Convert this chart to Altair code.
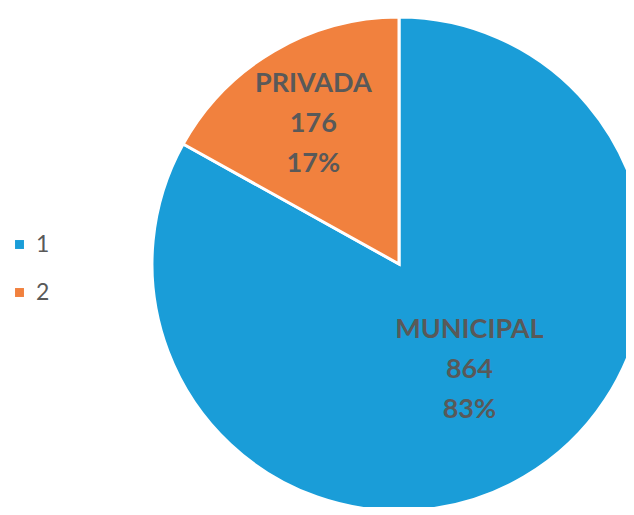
import altair as alt
import pandas as pd

names = ["MUNICIPAL", "PRIVADA"]
values = [864, 176]
legend_keys = ["1", "2"]
order = [1, 2]
colors = ["#1A9DD8", "#F1813E"]

df = pd.DataFrame({"name": names, "value": values, "key": legend_keys, "ord": order})

base = alt.Chart(df).transform_joinaggregate(
    total="sum(value)"
).transform_calculate(
    pct="format(datum.value / datum.total, '.0%')",
    label="[datum.name, '' + datum.value, datum.pct]",
)

cx, cy, R = 391, 256, 247

pie = base.mark_arc(outerRadius=R, stroke="white", strokeWidth=3).encode(
    theta=alt.Theta("value:Q", stack=True),
    order=alt.Order("ord:Q"),
    color=alt.Color(
        "key:N",
        scale=alt.Scale(domain=legend_keys, range=colors),
        legend=alt.Legend(
            title=None,
            orient="none",
            legendX=0,
            legendY=225,
            symbolType="square",
            symbolSize=80,
            symbolStrokeWidth=0,
            labelFontSize=23,
            labelFont="Lato",
            labelColor="#595959",
            rowPadding=24,
            labelOffset=5,
            padding=0,
        ),
    ),
    x=alt.value(cx),
    y=alt.value(cy),
)

def label_layer(target, r, dx, dy):
    return base.transform_calculate(
        shown=f"datum.name == '{target}' ? datum.label : ''"
    ).mark_text(
        radius=r, font="Lato", fontSize=27, fontWeight="bold", color="#595959",
        lineHeight=40, align="center", baseline="middle", dy=dy, dx=dx,
    ).encode(
        theta=alt.Theta("value:Q", stack=True),
        order=alt.Order("ord:Q"),
        text="shown:N",
        x=alt.value(cx),
        y=alt.value(cy),
    )

chart = alt.layer(
    pie,
    label_layer("PRIVADA", 167, -1, -36),
    label_layer("MUNICIPAL", 125, 7, -42),
).properties(
    width=618, height=499, autosize=alt.AutoSizeParams(type="none"), padding=0,
).configure_view(stroke=None)

chart.save("out.html", embed_options={"renderer": "svg", "actions": False})
